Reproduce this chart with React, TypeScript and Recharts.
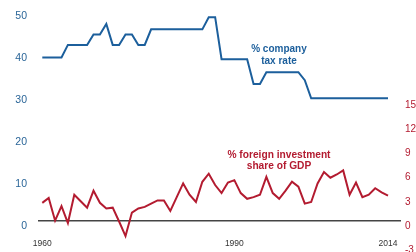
import React from "react";
import {
  LineChart,
  Line,
  XAxis,
  YAxis,
  ReferenceLine
} from "recharts";

// years shown
const years = Array.from({ length: 55 }, (_, i) => 1960 + i);

// % company tax rate (left axis)
const taxRate = [
  40, 40, 40, 40, 43, 43, 43, 43, 45.5, 45.5,
  48, 43, 43, 45.5, 45.5, 43, 43, 46.7, 46.7, 46.7,
  46.7, 46.7, 46.7, 46.7, 46.7, 46.7, 49.6, 49.6, 39.6, 39.6,
  39.6, 39.6, 39.6, 33.7, 33.7, 36.5, 36.5, 36.5, 36.5, 36.5,
  36.5, 34.6, 30.3, 30.3, 30.3, 30.3, 30.3, 30.3, 30.3, 30.3,
  30.3, 30.3, 30.3, 30.3, 30.3
];

// % foreign investment share of GDP (right axis)
const fdiShare = [
  2.8, 3.4, 0.6, 2.4, 0.3, 3.8, 3.0, 2.2, 4.3, 2.8,
  2.1, 2.2, 0.5, -1.3, 1.6, 2.1, 2.3, 2.7, 3.1, 3.1,
  1.8, 3.5, 5.2, 3.8, 2.9, 5.4, 6.4, 5.0, 4.0, 5.3,
  5.6, 4.0, 3.3, 3.5, 3.8, 6.0, 4.0, 3.3, 4.3, 5.4,
  4.8, 2.7, 2.9, 5.2, 6.6, 5.9, 6.3, 6.8, 3.8, 5.3,
  3.5, 3.8, 4.6, 4.1, 3.7
];

const yearTicks = [1960, 1990, 2014];
const leftTicks = [0, 10, 20, 30, 40, 50];
const rightTicks = [-3, 0, 3, 6, 9, 12, 15];

const data = years.map((year, i) => ({
  year,
  tax: taxRate[i],
  fdi: fdiShare[i]
}));

const BLUE = "#1c5f9c";
const RED = "#b31b30";
const FONT = "'Liberation Sans', Arial, sans-serif";

const YearTick = (props: any) => (
  <text x={props.x} y={props.y - 6.5} textAnchor="middle"
    fill="#333" fontSize={8.5} fontFamily={FONT}>
    {props.payload.value}
  </text>
);

const RightTick = (props: any) => (
  <text x={props.x} y={props.y} textAnchor="start" dominantBaseline="central"
    fill={RED} fontSize={10} fontFamily={FONT}>
    {props.payload.value}
  </text>
);

export default function App() {
  // fixed so the chart can reach the window edges without scrollbars
  return (
    <div style={{ position: "fixed", top: 8, left: 8 }}>
      <LineChart
        width={408}
        height={245}
        data={data}
        margin={{ top: 7.5, right: 0, left: 0, bottom: 0 }}
      >
        <XAxis
          dataKey="year"
          type="number"
          domain={[1959.33, 2016.03]}
          allowDataOverflow
          ticks={yearTicks}
          interval={0}
          height={1}
          axisLine={false}
          tickLine={false}
          tickSize={0}
          tickMargin={0}
          tick={<YearTick />}
        />
        <YAxis
          yAxisId="left"
          domain={[-6.31, 50]}
          allowDataOverflow
          ticks={leftTicks}
          interval={0}
          width={30}
          axisLine={false}
          tickLine={false}
          tickSize={0}
          tickMargin={11}
          tick={{ fill: "#2a6598", fontSize: 10.5, fontFamily: FONT }}
        />
        <YAxis
          yAxisId="right"
          orientation="right"
          domain={[-3.27, 25.93]}
          allowDataOverflow
          ticks={rightTicks}
          interval={0}
          width={15}
          axisLine={false}
          tickLine={false}
          tickSize={0}
          tickMargin={4}
          tick={<RightTick />}
        />
        <ReferenceLine yAxisId="right" y={0.6} stroke="#444" strokeWidth={1.5} />
        <Line
          yAxisId="left"
          type="linear"
          dataKey="tax"
          stroke={BLUE}
          strokeWidth={2}
          dot={false}
          isAnimationActive={false}
        />
        <Line
          yAxisId="right"
          type="linear"
          dataKey="fdi"
          stroke={RED}
          strokeWidth={2}
          dot={false}
          isAnimationActive={false}
        />
        <text x={271} y={40.3} textAnchor="middle" dominantBaseline="central"
          fill={BLUE} fontSize={10} fontWeight="bold" fontFamily={FONT}>
          % company
        </text>
        <text x={271} y={52} textAnchor="middle" dominantBaseline="central"
          fill={BLUE} fontSize={10} fontWeight="bold" fontFamily={FONT}>
          tax rate
        </text>
        <text x={271} y={146.3} textAnchor="middle" dominantBaseline="central"
          fill={RED} fontSize={10.2} fontWeight="bold" fontFamily={FONT}>
          % foreign investment
        </text>
        <text x={271} y={157.7} textAnchor="middle" dominantBaseline="central"
          fill={RED} fontSize={10.2} fontWeight="bold" fontFamily={FONT}>
          share of GDP
        </text>
      </LineChart>
    </div>
  );
}
